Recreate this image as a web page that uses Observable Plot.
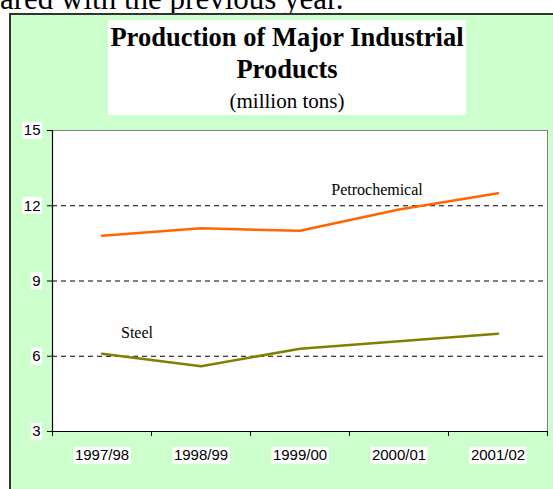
<!DOCTYPE html>
<html>
<head>
<meta charset="utf-8">
<script src="https://cdn.jsdelivr.net/npm/d3@7"></script>
<script src="https://cdn.jsdelivr.net/npm/@observablehq/plot@0.6"></script>
<style>
  html, body { margin: 0; padding: 0; background: #fff; width: 553px; height: 489px; overflow: hidden; }
  #lead { position: absolute; left: 0px; top: -17.5px; font: 31px "Liberation Serif", "Times New Roman", serif; color: #000; white-space: nowrap; line-height: 31px; }
  #panel { position: absolute; left: 9px; top: 13px; width: 560px; height: 500px; background: #CCFFCC; border: 2px solid #333; box-sizing: border-box; }
  #titlebox { position: absolute; left: 108px; top: 20px; width: 358px; height: 95px; background: #fff; text-align: center; font-family: "Liberation Serif", "Times New Roman", serif; color: #000; white-space: nowrap; }
  #t1 { font-weight: bold; font-size: 26.5px; line-height: 32.5px; padding-top: 0.5px; }
  #t2 { font-size: 21px; line-height: 31px; }
  #chart { position: absolute; left: 0; top: 118px; }
</style>
</head>
<body>
<div id="lead">ared with the previous year.</div>
<div id="panel"></div>
<div id="titlebox"><div id="t1">Production of Major Industrial<br>Products</div><div id="t2">(million tons)</div></div>
<div id="chart"></div>
<script>
const years = ["1997/98", "1998/99", "1999/00", "2000/01", "2001/02"];
const petrochemical = [10.8, 11.1, 11.0, 11.85, 12.5];
const steel = [6.1, 5.6, 6.3, 6.6, 6.9];
const yTicks = [3, 6, 9, 12, 15];
const gridTicks = [6, 9, 12];

const rows = [];
years.forEach((yr, i) => {
  rows.push({series: "Petrochemical", i: i + 0.5, year: yr, value: petrochemical[i]});
  rows.push({series: "Steel", i: i + 0.5, year: yr, value: steel[i]});
});
const colors = {Petrochemical: "#FF6600", Steel: "#808000"};
const petroLabel = rows.filter(d => d.series === "Petrochemical" && d.year === "2000/01");
const steelLabel = rows.filter(d => d.series === "Steel" && d.year === "1997/98");

const plot = Plot.plot({
  width: 553,
  height: 371,
  marginTop: 12,
  marginLeft: 52,
  marginRight: 6,
  marginBottom: 58,
  style: {background: "transparent", fontFamily: "'Liberation Sans', Arial, sans-serif", fontSize: "15px", color: "#000"},
  x: {type: "linear", domain: [0, years.length]},
  y: {domain: [3, 15]},
  marks: [
    Plot.frame({fill: "#fff", stroke: "#808080"}),
    Plot.ruleY(gridTicks, {stroke: "#000", strokeDasharray: "5,4", strokeWidth: 1}),
    Plot.ruleY([15], {stroke: "#808080"}),
    Plot.axisY({ticks: yTicks, tickSize: 5, tickPadding: 7, stroke: "#000", strokeOpacity: 1, label: null, fontSize: 15}),
    Plot.axisX({ticks: d3.range(years.length + 1), tickSize: 5, tickFormat: () => "", stroke: "#000", strokeOpacity: 1, label: null}),
    Plot.axisX({ticks: d3.range(years.length).map(i => i + 0.5), tickSize: 0, tickPadding: 18, tickFormat: d => years[Math.floor(d)], label: null, fontSize: 15}),
    Plot.ruleX([0], {stroke: "#000", strokeWidth: 1.2}),
    Plot.ruleY([3], {stroke: "#000", strokeWidth: 1.2}),
    Plot.line(rows, {x: "i", y: "value", z: "series", stroke: d => colors[d.series], strokeWidth: 2.5, strokeLinejoin: "miter"}),
    Plot.text(petroLabel, {x: "i", y: "value", text: "series", dx: -22, dy: -15, lineAnchor: "bottom", fontFamily: "'Liberation Serif', 'Times New Roman', serif", fontSize: 16, fill: "#000"}),
    Plot.text(steelLabel, {x: "i", y: "value", text: "series", dx: 35, dy: -16, lineAnchor: "bottom", fontFamily: "'Liberation Serif', 'Times New Roman', serif", fontSize: 16, fill: "#000"})
  ]
});
document.getElementById("chart").append(plot);

// white boxes behind tick labels
const labelSet = new Set([...years, ...yTicks.map(String)]);
const svgEl = plot.tagName.toLowerCase() === "svg" ? plot : plot.querySelector("svg");
Array.from(svgEl.querySelectorAll("text")).forEach(t => {
  const txt = (t.textContent || "").trim();
  if (!labelSet.has(txt)) return;
  let b;
  try { b = t.getBBox(); } catch (e) { return; }
  const r = document.createElementNS("http://www.w3.org/2000/svg", "rect");
  r.setAttribute("x", b.x - 1.5);
  r.setAttribute("y", b.y + 0.5);
  r.setAttribute("width", b.width + 3);
  r.setAttribute("height", b.height);
  r.setAttribute("fill", "#fff");
  r.setAttribute("stroke", "none");
  const tr = t.getAttribute("transform");
  if (tr) r.setAttribute("transform", tr);
  t.parentNode.insertBefore(r, t);
});
</script>
</body>
</html>
